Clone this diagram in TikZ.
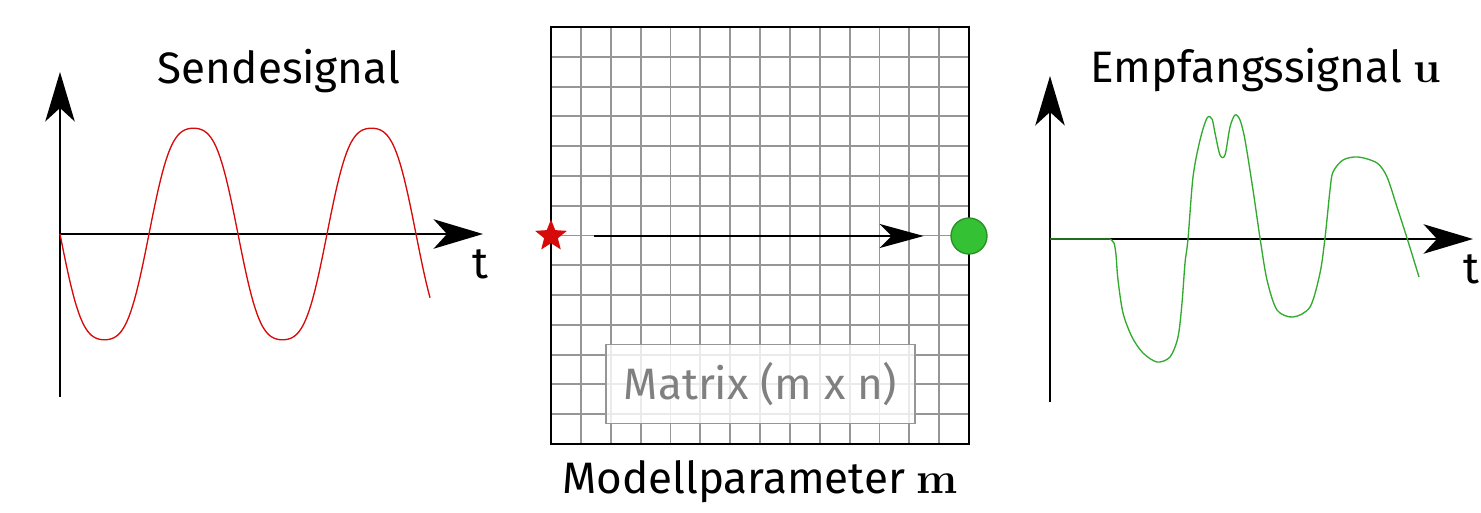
\documentclass[tikz,border=0pt]{standalone}
\usepackage{fix-cm}
\usepackage[no-math]{fontspec}
\setmainfont{Fira Sans}
\newfontfamily\lmfont{Latin Modern Roman}
\usetikzlibrary{arrows.meta,shapes.geometric}

\definecolor{sendred}{RGB}{215,10,10}
\definecolor{recvgreen}{RGB}{50,170,45}
\definecolor{dotgreen}{RGB}{52,194,52}
\definecolor{gridgray}{RGB}{150,150,150}

\newcommand{\vecsym}[1]{{\lmfont\bfseries #1}}

\tikzset{
  axis/.style={line width=2.2pt, -{Stealth[length=37pt, width=22pt, inset=10pt]}},
  ray/.style={line width=1.8pt, -{Stealth[length=33pt, width=18pt, inset=9pt]}},
  gridline/.style={gridgray, line width=1.4pt},
  frame/.style={line width=1.6pt},
  lbl/.style={font=\fontsize{33pt}{40pt}\selectfont, inner sep=0pt, anchor=base},
}

\begin{document}
\begin{tikzpicture}[x=0.75pt, y=-0.75pt]
    \useasboundingbox (0,0) rectangle (1481,513);

    % Sendesignal
    \coordinate (O1) at (60,234);
    \draw[axis] (60,397) -- (60,72);
    \draw[axis] (O1) -- (483,234);
    \draw[sendred, line width=1pt] plot[domain=0:370, samples=200, variable=\t]
        ({60+\t}, {234+115*(sin(\t/178*360)+0.08*sin(3*(\t/178)*360))});
    \node[lbl] (send) at (279,84) {Sendesignal};
    \node[lbl] (t1) at (480,278) {t};

    % Modellparameter
    \foreach \i in {0,...,14}
        \draw[gridline] (551+\i*29.857,27) -- ++(0,417);
    \foreach \i in {0,...,14}
        \draw[gridline] (551,27+\i*29.786) -- ++(418,0);
    \draw[frame] (551,27) rectangle (969,444);

    \node[star, star points=5, star point ratio=2.3, fill=sendred, minimum size=25pt,
        inner sep=0pt] (src) at (551,236) {};
    \node[circle, fill=dotgreen, draw=recvgreen!85!black, line width=1pt,
        minimum size=27pt, inner sep=0pt] (rcv) at (969,236) {};
    \draw[ray] ([xshift=25pt]src.east) -- ([xshift=-20pt]rcv.west);

    \node[draw=gridgray, line width=1.1pt, fill=white, fill opacity=0.8, text opacity=1,
        text=gray, minimum width=232pt, minimum height=59pt,
        font=\fontsize{33pt}{40pt}\selectfont] (mat) at (760.5,384) {Matrix (m x n)};
    \node[lbl] (model) at (760,493) {Modellparameter \vecsym{m}};

    % Empfangssignal
    \coordinate (O2) at (1050,239);
    \draw[axis] (1050,402) -- (1050,76);
    \draw[axis] (O2) -- (1473,239);
    \draw[recvgreen, line width=1pt] (O2) -- (1110,239)
        plot[smooth, tension=0.5] coordinates {(1110,239) (1114,243) (1116,255) (1118,280)
        (1123,313) (1132,337) (1143,353) (1157,362) (1170,357) (1178,337) (1182,303)
        (1185,263) (1188,239) (1193,177) (1200,140) (1207,118) (1212,119) (1215,133)
        (1220,155) (1225,155) (1230,127) (1235,115) (1240,120) (1245,140) (1253,190)
        (1260,238) (1267,280) (1277,310) (1293,317) (1310,307) (1320,273) (1325,238)
        (1330,190) (1333,172) (1343,160) (1358,157) (1377,163) (1387,177) (1397,207)
        (1407,238) (1419,277)};
    \node[lbl] (recv) at (1266,83) {Empfangssignal \vecsym{u}};
    \node[lbl] (t2) at (1471,283) {t};
\end{tikzpicture}
\end{document}
